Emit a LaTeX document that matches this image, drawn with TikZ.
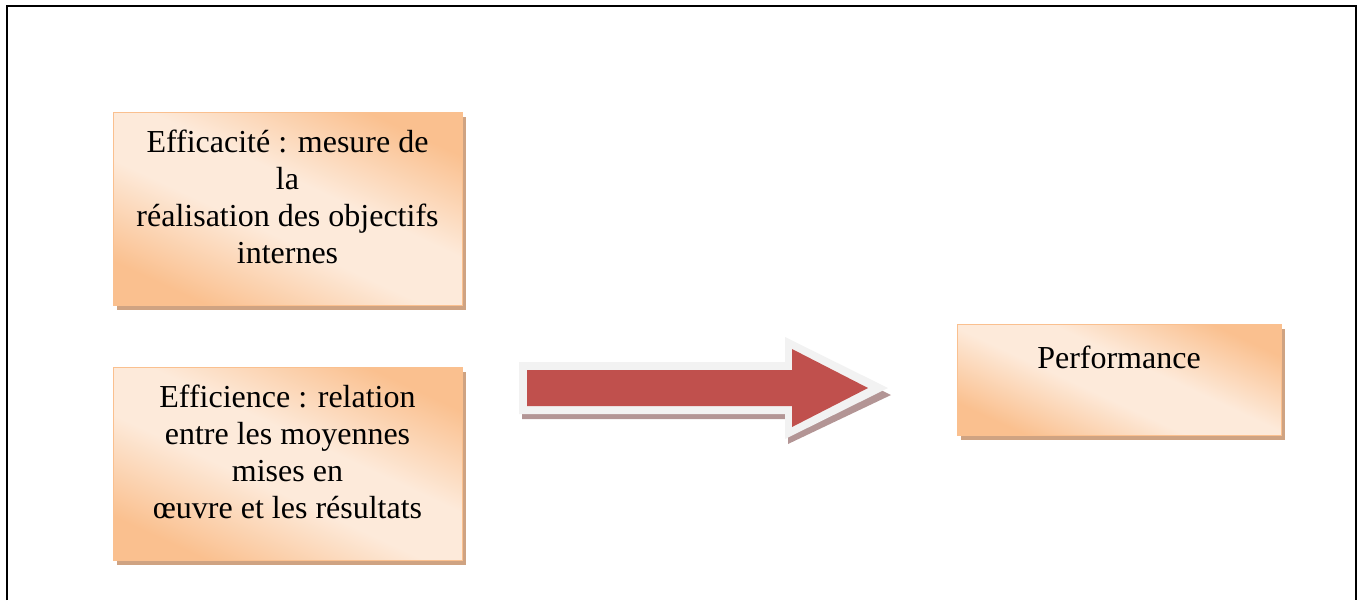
\documentclass[tikz,border=0pt]{standalone}
\usepackage{fontspec}
\setmainfont{Liberation Serif}
\definecolor{boxorange}{HTML}{FAC08F}
\definecolor{boxlight}{HTML}{FDEADA}
\definecolor{boxshadow}{HTML}{CFA382}
\definecolor{arrowred}{HTML}{C0504D}
\definecolor{arrowrim}{HTML}{F2F2F2}
\definecolor{arrowshadow}{HTML}{B39595}
% orange corners fading softly into a pale band across the middle
\pgfdeclareverticalshading{panelshade}{100bp}{
  color(0bp)=(boxorange); color(25bp)=(boxorange);
  color(44bp)=(boxlight); color(56bp)=(boxlight);
  color(75bp)=(boxorange); color(100bp)=(boxorange)}
\begin{document}
\begin{tikzpicture}[x=1pt,y=-1pt,
  panel/.style={draw=boxorange, line width=1pt, shading=panelshade,
    shading angle=-25, inner sep=0pt},
  paneltext/.style={anchor=north, align=center, inner sep=0pt,
    font=\fontsize{32}{37}\selectfont}]
\useasboundingbox (0,0) rectangle (1362,600);

% page frame, open at the bottom
\draw[line width=2pt] (7,600) -- (7,6) -- (1356,6) -- (1356,600);

% shadows of the three panels
\fill[boxshadow] (117,117) rectangle (466,310);
\fill[boxshadow] (117,372) rectangle (466,565);
\fill[boxshadow] (961,329) rectangle (1285,440);

% panels
\node[panel, minimum width=349pt, minimum height=193pt] (eff1) at (287.5,208.5) {};
\node[panel, minimum width=349pt, minimum height=193pt] (eff2) at (287.5,463.5) {};
\node[panel, minimum width=324pt, minimum height=111pt] (perf) at (1119,379.5) {};

\node[paneltext] (t1) at ([yshift=-18pt]eff1.north)
  {Efficacité : mesure de\\la\\réalisation des objectifs\\internes};
\node[paneltext] (t2) at ([yshift=-18pt]eff2.north)
  {Efficience : relation\\entre les moyennes\\mises en\\œuvre et les résultats};
\node[paneltext] (t3) at ([yshift=-22pt]perf.north) {Performance};

% block arrow: shadow, light rim, red body
\fill[arrowshadow] (522,369) -- (788,369) -- (788,344) -- (891,395)
  -- (788,444) -- (788,419) -- (522,419) -- cycle;
\fill[arrowrim] (519,362) -- (785,362) -- (785,337) -- (888,388)
  -- (785,439) -- (785,414) -- (519,414) -- cycle;
\fill[arrowred] (527,370) -- (792,370) -- (792,349) -- (868,388)
  -- (792,427) -- (792,406) -- (527,406) -- cycle;
\end{tikzpicture}
\end{document}
